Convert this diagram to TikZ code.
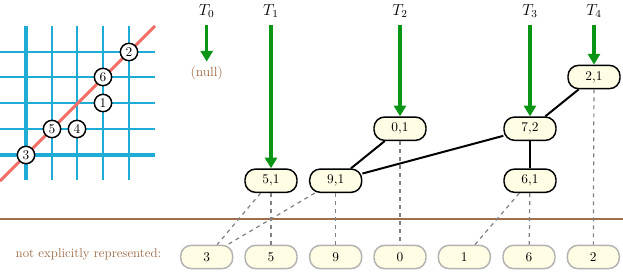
\documentclass[tikz,border=0pt]{standalone}
\usetikzlibrary{arrows.meta}

\definecolor{gridblue}{RGB}{30,172,215}
\definecolor{diagred}{RGB}{242,110,105}
\definecolor{rootgreen}{RGB}{10,150,20}
\definecolor{labelbrown}{RGB}{160,110,75}
\definecolor{nodefill}{RGB}{255,253,228}

\begin{document}
\begin{tikzpicture}[
    x=0.75pt, y=-0.75pt,
    tree/.style={draw, line width=1.1pt, rounded corners=8pt, fill=nodefill, minimum width=39pt, minimum height=17.5pt, inner sep=1pt, font=\normalsize},
    leaf/.style={tree, draw=gray!60},
    pt/.style={circle, draw, line width=1.1pt, fill=white, inner sep=0pt, minimum size=13pt, font=\normalsize},
    edge/.style={line width=1.5pt},
    ptr/.style={dashed, gray, line width=0.9pt},
    root/.style={-{Triangle[length=8pt,width=9pt]}, line width=2.6pt, rootgreen}
]
\useasboundingbox (0,0) rectangle (623,274);

% the grid with the diagonal
\foreach \x in {52,77,103,129}
    \draw[gridblue, line width=1.3pt] (\x,26) -- (\x,180);
\foreach \y in {52,77,103,129}
    \draw[gridblue, line width=1.3pt] (0,\y) -- (155,\y);
\draw[gridblue, line width=2.3pt] (26,26) -- (26,180);
\draw[gridblue, line width=2.3pt] (0,155) -- (155,155);
\draw[diagred, line width=2.2pt] (0,181) -- (155,26);

% points on the grid
\node[pt] (p3) at (26,155) {3};
\node[pt] (p5) at (52,129) {5};
\node[pt] (p4) at (77,129) {4};
\node[pt] (p1) at (103,103) {1};
\node[pt] (p6) at (103,77) {6};
\node[pt] (p2) at (129,52) {2};

% version labels and their roots
\node[font=\large] (t0) at (206.7,11) {$T_0$};
\node[font=\large] (t1) at (271,11) {$T_1$};
\node[font=\large] (t2) at (400,11) {$T_2$};
\node[font=\large] (t3) at (530,11) {$T_3$};
\node[font=\large] (t4) at (594,11) {$T_4$};
\node[text=labelbrown] (null) at (206.7,73) {(null)};

% tree nodes
\node[tree] (n51) at (271,180.7) {5,1};
\node[tree] (n91) at (335.7,180.7) {9,1};
\node[tree] (n01) at (400,128.7) {0,1};
\node[tree] (n72) at (530,128.7) {7,2};
\node[tree] (n61) at (530,180.7) {6,1};
\node[tree] (n21) at (594,77) {2,1};

% leaves
\node[text=labelbrown, font=\fontsize{9.6}{11}\selectfont, anchor=east] (caption) at (166,254) {not explicitly represented:};
\node[leaf] (l3) at (206.7,257) {3};
\node[leaf] (l5) at (271,257) {5};
\node[leaf] (l9) at (335.7,257) {9};
\node[leaf] (l0) at (400,257) {0};
\node[leaf] (l1) at (464.3,257) {1};
\node[leaf] (l6) at (529,257) {6};
\node[leaf] (l2) at (593.3,257) {2};

% separating line
\draw[labelbrown, line width=1.1pt] (0,219) -- (623,219);

% root arrows
\draw[root] (206.7,25) -- (null.north);
\draw[root] (271,25) -- (n51.north);
\draw[root] (400,25) -- (n01.north);
\draw[root] (530,25) -- (n72.north);
\draw[root] (594,25) -- (n21.north);

% tree edges
\draw[edge] (n01) -- (n91);
\draw[edge] (n91) -- (n72);
\draw[edge] (n72) -- (n61);
\draw[edge] (n72) -- (n21);

% pointers to the leaves
\draw[ptr] (n51) -- (l3);
\draw[ptr] (n51) -- (l5);
\draw[ptr] (n91) -- (l3);
\draw[ptr] (n91) -- (l9);
\draw[ptr] (n01) -- (l0);
\draw[ptr] (n61) -- (l1);
\draw[ptr] (n61) -- (l6);
\draw[ptr] (n21) -- (l2);

\end{tikzpicture}
\end{document}
